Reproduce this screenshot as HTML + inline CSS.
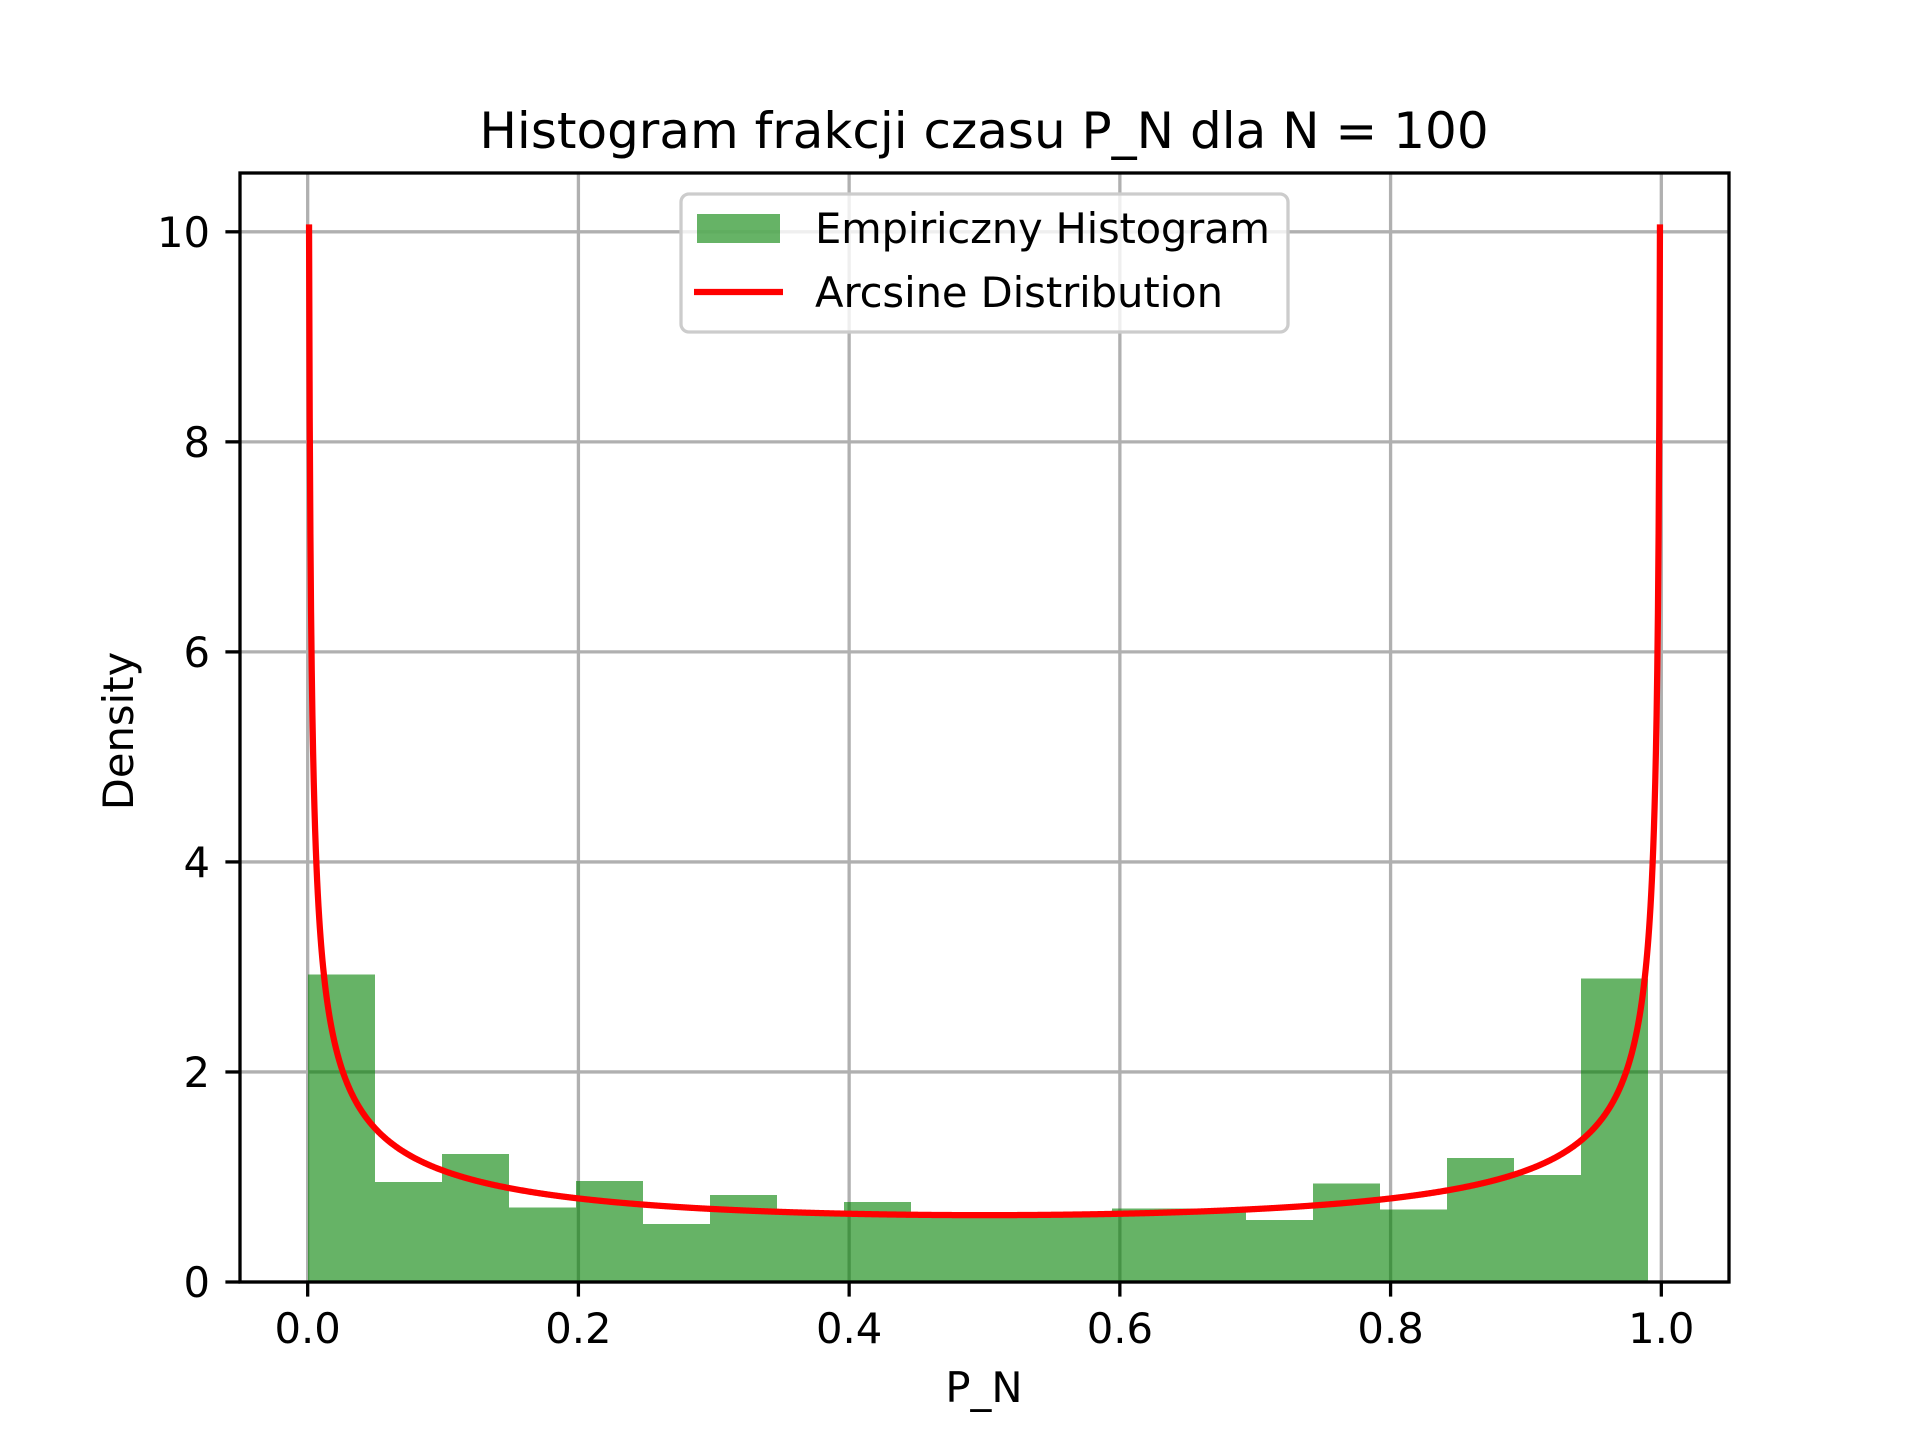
<!DOCTYPE html>
<html><head><meta charset="utf-8"><style>
body{margin:0;background:#fff}
svg text{font-family:"DejaVu Sans","Liberation Sans",sans-serif;fill:#000}
</style></head><body>
<svg id="chart" width="1920" height="1440" viewBox="0 0 1920 1440" xmlns="http://www.w3.org/2000/svg">
<rect width="1920" height="1440" fill="#fff"/>
<g id="grid"></g>
<g id="bars" shape-rendering="crispEdges"></g>
<g id="curve"></g>
<rect x="240" y="173" width="1489" height="1109" fill="none" stroke="#000" stroke-width="3.3"/>
<g id="ticks"></g>
<text x="984" y="148" font-size="50" text-anchor="middle">Histogram frakcji czasu P_N dla N = 100</text>
<text x="984" y="1402" font-size="41.7" text-anchor="middle">P_N</text>
<text transform="translate(133,731) rotate(-90)" font-size="41.7" text-anchor="middle">Density</text>
<g>
<rect x="681" y="194" width="607" height="138" rx="8" fill="#fff" fill-opacity="0.8" stroke="#cccccc" stroke-width="3.3"/>
<rect x="697" y="214" width="83" height="29" fill="#008000" fill-opacity="0.6"/>
<text x="815" y="243" font-size="41.7" textLength="455">Empiriczny Histogram</text>
<line x1="694" y1="292" x2="783" y2="292" stroke="#ff0000" stroke-width="6.25"/>
<text x="815" y="307" font-size="41.7" textLength="408">Arcsine Distribution</text>
</g>
</svg>
<script>
const binStart = 0.0;
const binEnd = 0.99;
const densities = [2.93,0.95,1.22,0.71,0.96,0.55,0.83,0.65,0.76,0.63,0.64,0.62,0.70,0.70,0.59,0.94,0.69,1.18,1.02,2.89];
const xTicks = [0.0,0.2,0.4,0.6,0.8,1.0];
const xTickLabels = ["0.0","0.2","0.4","0.6","0.8","1.0"];
const yTicks = [0,2,4,6,8,10];
const yTickLabels = ["0","2","4","6","8","10"];

const NS="http://www.w3.org/2000/svg";
const X0=240,X1=1729,Y0=1282,Y1=173;
const xmin=-0.05, xmax=1.05, ymin=0, ymax=10.56;
const sx=v=>X0+(v-xmin)/(xmax-xmin)*(X1-X0);
const sy=v=>Y0-(v-ymin)/(ymax-ymin)*(Y0-Y1);
function mk(tag,attrs,parent){const e=document.createElementNS(NS,tag);for(const k in attrs)e.setAttribute(k,attrs[k]);parent.appendChild(e);return e;}
const grid=document.getElementById('grid'),ticks=document.getElementById('ticks');
xTicks.forEach((t,i)=>{
  const g=mk('line',{x1:sx(t),x2:sx(t),y1:Y1,y2:Y0,stroke:'#b0b0b0','stroke-width':3.3},grid);
  
  
  const tk=mk('line',{x1:sx(t),x2:sx(t),y1:Y0,y2:Y0+14.6,stroke:'#000','stroke-width':3.3},ticks);
  
  
  const tx=mk('text',{x:sx(t),y:1343,'font-size':41.7,'text-anchor':'middle'},ticks);
  tx.textContent=xTickLabels[i];
  
  
});
yTicks.forEach((t,i)=>{
  const g=mk('line',{x1:X0,x2:X1,y1:sy(t),y2:sy(t),stroke:'#b0b0b0','stroke-width':3.3},grid);
  
  
  const tk=mk('line',{x1:X0-14.6,x2:X0,y1:sy(t),y2:sy(t),stroke:'#000','stroke-width':3.3},ticks);
  
  
  const tx=mk('text',{x:210,y:sy(t)+15,'font-size':41.7,'text-anchor':'end'},ticks);
  tx.textContent=yTickLabels[i];
  
  
});
const bars=document.getElementById('bars');
const w=(binEnd-binStart)/densities.length;
densities.forEach((d,i)=>{
  const a=Math.round(sx(binStart+i*w)), b=Math.round(sx(binStart+(i+1)*w));
  const r=mk('rect',{x:a,y:sy(d),width:b-a,height:sy(0)-sy(d),fill:'#008000','fill-opacity':0.6},bars);
  
  
});
let pts=[];
for(let k=0;k<=2000;k++){const x=0.001+k*(0.998/2000);const y=1/(Math.PI*Math.sqrt(x*(1-x)));pts.push(sx(x).toFixed(2)+','+sy(y).toFixed(2));}
const p=mk('polyline',{points:pts.join(' '),fill:'none',stroke:'#ff0000','stroke-width':6.25,'stroke-linejoin':'round'},document.getElementById('curve'));


</script>
</body></html>
